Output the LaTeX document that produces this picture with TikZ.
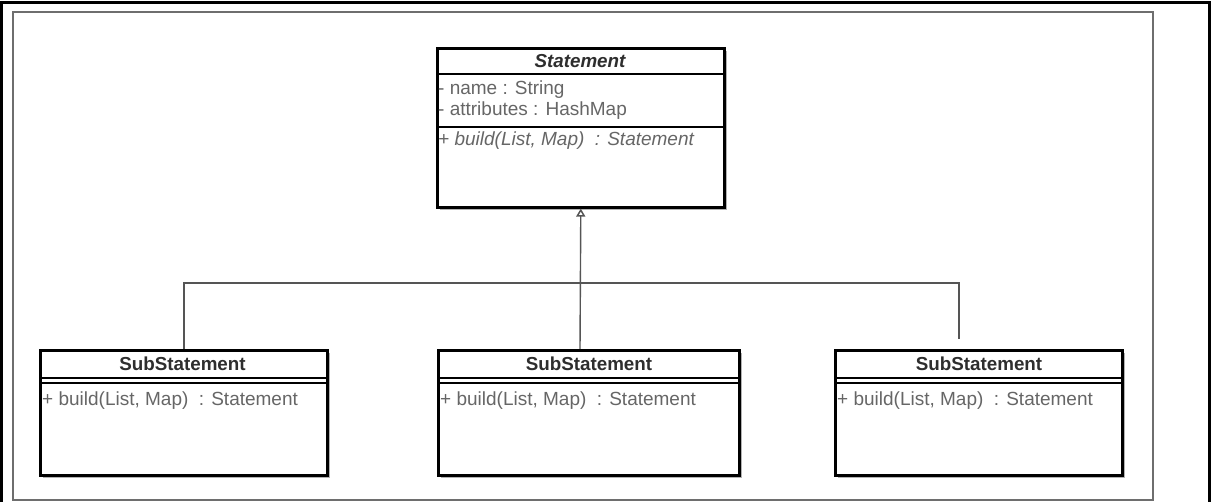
\documentclass[tikz,border=0pt]{standalone}
\usepackage{fontspec}
\setmainfont{Liberation Sans}
\usetikzlibrary{arrows.meta,shadows}
\definecolor{txtgray}{HTML}{666666}
\definecolor{titlegray}{HTML}{2E2E2E}
\definecolor{framegray}{HTML}{6E6E6E}
\definecolor{linkgray}{HTML}{555555}
\begin{document}
\begin{tikzpicture}[x=1pt,y=-1pt,
  classbox/.style={draw=black, line width=2.6pt, fill=white, rectangle,
    inner sep=0pt, anchor=north west,
    drop shadow={shadow xshift=3pt, shadow yshift=-3pt, fill=black, opacity=0.3}},
  sepline/.style={draw=black, line width=2pt},
  classtitle/.style={font=\fontsize{18.8}{22}\selectfont\bfseries, text=titlegray, inner sep=0pt},
  member/.style={font=\fontsize{19}{22}\selectfont, text=txtgray, inner sep=0pt, anchor=west},
  link/.style={draw=linkgray, line width=1.4pt},
]
\useasboundingbox (0,0) rectangle (1211,502);
\fill[white] (0,0) rectangle (1211,502);

% page edge and diagram frame
\draw[black, line width=3pt] (1.5,503) -- (1.5,3) -- (1209.5,3) -- (1209.5,503);
\draw[framegray, line width=2pt] (13,12) rectangle (1153,500);

% superclass
\node[classbox, minimum width=287pt, minimum height=159pt] (stmt) at (436,47) {};
\draw[sepline] (436,74) -- (723,74);
\draw[sepline] (436,127) -- (723,127);
\node[classtitle] (stmtT) at (580,61.5) {\itshape Statement};
\node[member] (stmtA1) at (438,90) {- name : String};
\node[member] (stmtA2) at (438,111) {- attributes : HashMap};
\node[member] (stmtM1) at (438,141) {\itshape + build(List, Map) \ : Statement};

% subclasses
\node[classbox, minimum width=287pt, minimum height=125pt] (subA) at (39,349) {};
\node[classbox, minimum width=301pt, minimum height=125pt] (subB) at (437,349) {};
\node[classbox, minimum width=287pt, minimum height=125pt] (subC) at (834,349) {};

\foreach \b/\xa/\xb in {subA/39/326, subB/437/738, subC/834/1121}{
  \draw[sepline] (\xa,378) -- (\xb,378);
  \draw[sepline] (\xa,383) -- (\xb,383);
}
\node[classtitle] (subAT) at (182.5,364) {SubStatement};
\node[classtitle] (subBT) at (589,364) {SubStatement};
\node[classtitle] (subCT) at (979,364) {SubStatement};
\node[member] (subAM) at (42,401) {+ build(List, Map) \ : Statement};
\node[member] (subBM) at (440,401) {+ build(List, Map) \ : Statement};
\node[member] (subCM) at (837,401) {+ build(List, Map) \ : Statement};

% generalization connectors
\coordinate (junc) at (580,283);
\coordinate (tailC) at (959,339);
\draw[link] (subA.north) |- (junc);
\draw[link] (junc) -| (tailC);
\draw[link, -{Triangle[open, width=9pt, length=8pt, line width=1.5pt]}]
  (580,349) -- (stmt.south);
\end{tikzpicture}
\end{document}
